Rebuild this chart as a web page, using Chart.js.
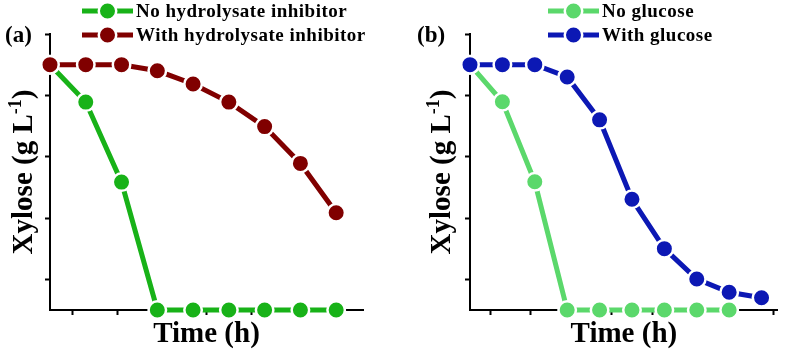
<!DOCTYPE html>
<html>
<head>
<meta charset="utf-8">
<script src="https://cdn.jsdelivr.net/npm/chart.js@4/dist/chart.umd.min.js"></script>
<style>
  body { margin: 0; background: #fff; }
  #wrap { position: relative; width: 789px; height: 356px; }
  .panel { position: absolute; top: 0; height: 356px; }
</style>
</head>
<body>
<div id="wrap">
  <div class="panel" style="left:0;width:395px"><canvas id="chartA" width="395" height="356"></canvas></div>
  <div class="panel" style="left:395px;width:394px"><canvas id="chartB" width="394" height="356"></canvas></div>
</div>
<script>
// panel (a): sampling every 8 h
const hoursA = [0, 8, 16, 24, 32, 40, 48, 56, 64];
const noInhibitor = [8, 6.78, 4.17, 0, 0, 0, 0, 0, 0];
const withInhibitor = [8, 8, 8, 7.8, 7.37, 6.78, 5.98, 4.78, 3.17];

// panel (b)
const hoursB = [0, 8, 16, 24, 32, 40, 48, 56, 64, 72];
const noGlucose = [8, 6.79, 4.18, 0, 0, 0, 0, 0, 0];
const withGlucose = [8, 8, 8, 7.6, 6.2, 3.61, 2.0, 1.01, 0.58, 0.40];

// unlabeled tick marks
const xTicksA = [5, 15, 25, 35, 45, 55, 65];
const xTicksB = [5, 15, 25, 35, 45, 55, 65, 75];
const yTicks = [1, 3, 5, 7, 9];

const FONT = 'Liberation Serif';

function series(label, hours, values, color, order) {
    return {
        label: label,
        data: hours.map((h, i) => ({x: h, y: values[i]})),
        borderColor: color,
        backgroundColor: color,
        pointBackgroundColor: color,
        pointBorderColor: '#fff',
        pointBorderWidth: 2.5,
        pointRadius: 8.75,
        borderWidth: 5,
        tension: 0,
        clip: false,
        order: order
    };
}

// panel tag, legend rows and y title with superscript
const panelDecor = {
    id: 'panelDecor',
    afterDraw(chart, args, opts) {
        const ctx = chart.ctx;
        ctx.save();
        ctx.fillStyle = '#000';
        ctx.textBaseline = 'alphabetic';
        ctx.textAlign = 'left';

        ctx.font = 'bold 23px "' + FONT + '"';
        ctx.fillText(opts.tag, opts.tagX, 42);

        ctx.font = 'bold 19px "' + FONT + '"';
        ctx.letterSpacing = '0.5px';
        chart.data.datasets.forEach((ds, i) => {
            const y = 11 + 24 * i;
            const x0 = opts.legendX, x1 = opts.legendX + 51, xm = (x0 + x1) / 2;
            ctx.strokeStyle = ds.borderColor;
            ctx.lineWidth = 5;
            ctx.beginPath();
            ctx.moveTo(x0, y);
            ctx.lineTo(x1, y);
            ctx.stroke();
            ctx.beginPath();
            ctx.arc(xm, y, 8.75, 0, Math.PI * 2);
            ctx.fillStyle = ds.borderColor;
            ctx.fill();
            ctx.strokeStyle = '#fff';
            ctx.lineWidth = 2.5;
            ctx.stroke();
            ctx.fillStyle = '#000';
            ctx.fillText(ds.label, x1 + 3, y + 6);
        });
        ctx.letterSpacing = '0px';

        const area = chart.chartArea;
        const main = 'bold 29px "' + FONT + '"';
        const sup = 'bold 18px "' + FONT + '"';
        ctx.font = main;
        const w1 = ctx.measureText('Xylose (g L').width;
        const w3 = ctx.measureText(')').width;
        ctx.font = sup;
        const w2 = ctx.measureText('-1').width;
        const total = w1 + w2 + w3;
        ctx.translate(opts.yTitleX, (area.top + area.bottom) / 2);
        ctx.rotate(-Math.PI / 2);
        let x = -total / 2;
        ctx.font = main;
        ctx.fillText('Xylose (g L', x, 0);
        x += w1;
        ctx.font = sup;
        ctx.fillText('-1', x, -11);
        x += w2;
        ctx.font = main;
        ctx.fillText(')', x, 0);
        ctx.restore();
    }
};

function makeChart(id, cfg) {
    return new Chart(document.getElementById(id), {
        type: 'line',
        data: {datasets: cfg.datasets},
        options: {
            responsive: false,
            animation: false,
            events: [],
            layout: {padding: {left: cfg.padLeft, right: cfg.padRight, top: 34, bottom: 0}},
            plugins: {
                legend: {display: false},
                tooltip: {enabled: false},
                panelDecor: cfg.decor
            },
            scales: {
                x: {
                    type: 'linear',
                    min: 0,
                    max: cfg.xMax,
                    afterBuildTicks: s => { s.ticks = cfg.xTicks.map(v => ({value: v})); },
                    afterFit: s => { s.height = 46; },
                    ticks: {display: false},
                    grid: {drawOnChartArea: false, drawTicks: true, tickLength: 5, tickWidth: 2, tickColor: '#000'},
                    border: {color: '#000', width: 2},
                    title: {
                        display: true,
                        text: 'Time (h)',
                        color: '#000',
                        font: {family: FONT, size: 29, weight: 'bold'}
                    }
                },
                y: {
                    type: 'linear',
                    min: 0,
                    max: 9,
                    afterBuildTicks: s => { s.ticks = yTicks.map(v => ({value: v})); },
                    afterFit: s => { s.width = 50; },
                    ticks: {display: false},
                    grid: {drawOnChartArea: false, drawTicks: true, tickLength: 5, tickWidth: 2, tickColor: '#000'},
                    border: {color: '#000', width: 2}
                }
            }
        },
        plugins: [panelDecor]
    });
}

makeChart('chartA', {
    datasets: [
        series('No hydrolysate inhibitor', hoursA, noInhibitor, '#18b218', 1),
        series('With hydrolysate inhibitor', hoursA, withInhibitor, '#800000', 0)
    ],
    xMax: 70,
    xTicks: xTicksA,
    padLeft: 0,
    padRight: 32,
    decor: {tag: '(a)', tagX: 5, legendX: 82, yTitleX: 32}
});

makeChart('chartB', {
    datasets: [
        series('No glucose', hoursB, noGlucose, '#5bd86b', 1),
        series('With glucose', hoursB, withGlucose, '#0c18b4', 0)
    ],
    xMax: 76,
    xTicks: xTicksB,
    padLeft: 25,
    padRight: 6,
    decor: {tag: '(b)', tagX: 22, legendX: 153, yTitleX: 55}
});
</script>
</body>
</html>
